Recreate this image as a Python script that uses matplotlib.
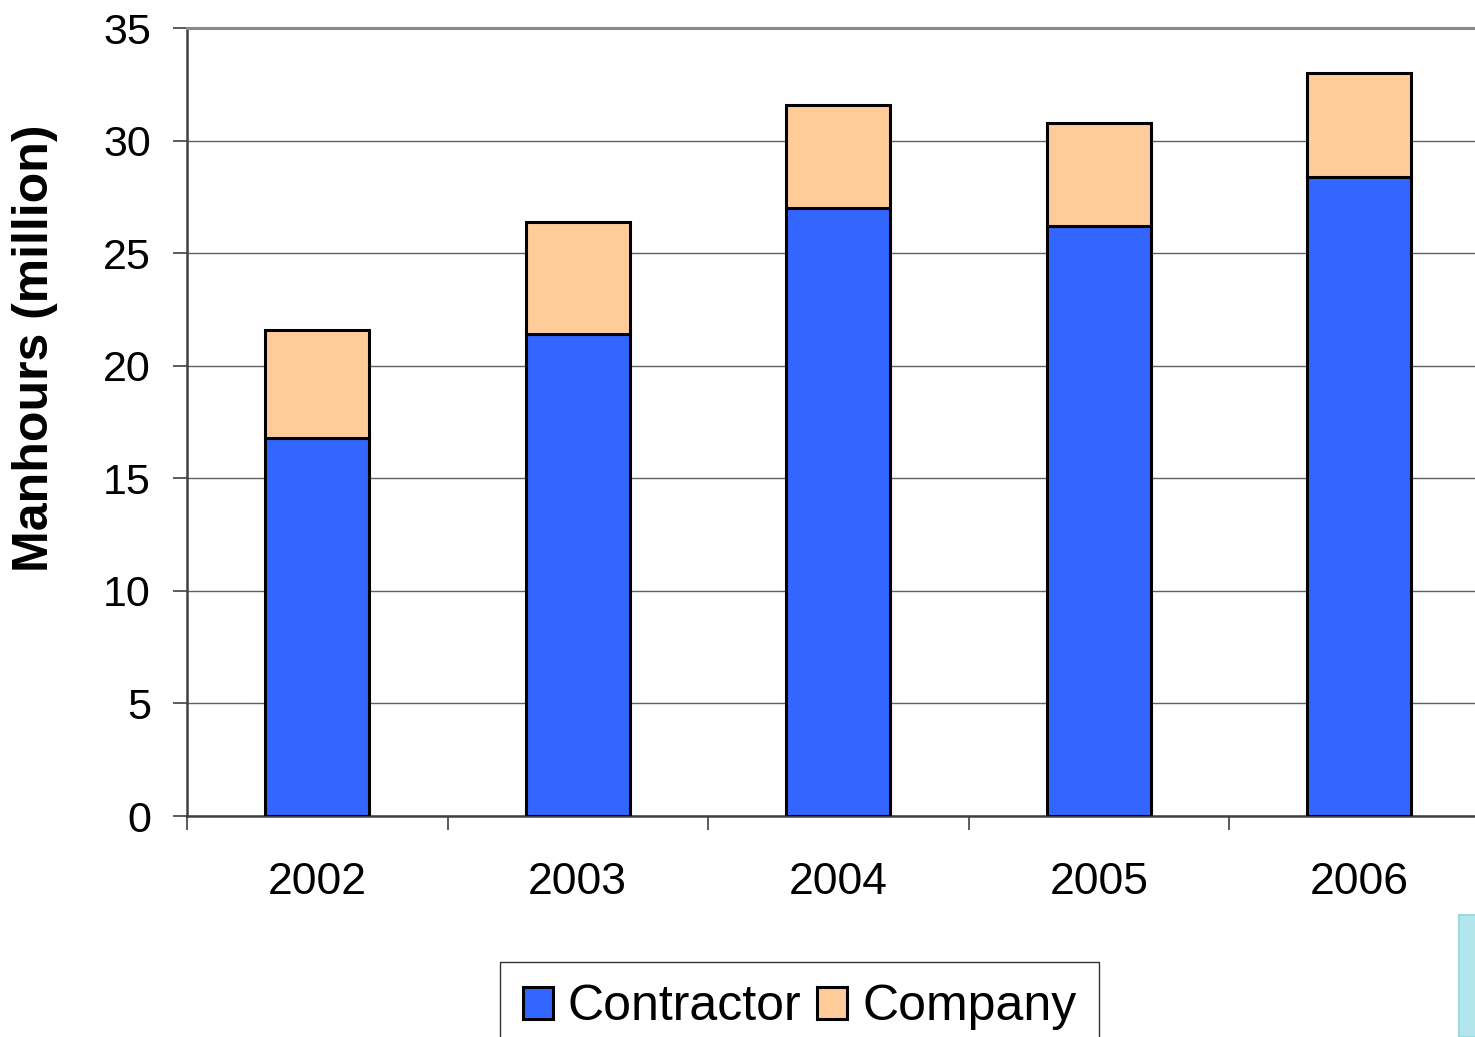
import matplotlib
matplotlib.use("Agg")
import matplotlib.pyplot as plt
from matplotlib.patches import Rectangle
import numpy as np

plt.rcParams["font.family"] = ["Liberation Sans", "DejaVu Sans"]

years = ["2002", "2003", "2004", "2005", "2006"]
contractor = [16.8, 21.4, 27.0, 26.2, 28.4]
company = [4.8, 5.0, 4.6, 4.6, 4.6]

BLUE = "#3366FF"
PEACH = "#FFCC99"

fig = plt.figure(figsize=(14.75, 10.37), dpi=100)
ax = fig.add_axes([187 / 1475, 1 - 816 / 1037, (1489.5 - 187) / 1475, (816 - 28) / 1037])

x = np.arange(len(years))
ax.bar(x, contractor, width=0.4, color=BLUE, edgecolor="black", linewidth=2.2,
       label="Contractor", zorder=3)
ax.bar(x, company, width=0.4, bottom=contractor, color=PEACH, edgecolor="black",
       linewidth=2.2, label="Company", zorder=3)

ax.set_xlim(-0.5, len(years) - 0.5)
ax.set_ylim(0, 35)
ax.set_yticks(range(0, 36, 5))
ax.set_xticks(x)
ax.set_xticklabels(years)
ax.set_xticks(np.arange(-0.5, len(years), 1.0), minor=True)
ax.tick_params(axis="x", which="major", length=0, pad=33, labelsize=32)
ax.tick_params(axis="x", which="minor", length=10, width=1.2, color="#404040")
ax.tick_params(axis="y", length=10, width=1.2, color="#404040", pad=16, labelsize=31)

ax.yaxis.grid(True, color="#606060", linewidth=1.0, zorder=0)
ax.set_axisbelow(True)
for side in ("left", "bottom"):
    ax.spines[side].set_color("#404040")
    ax.spines[side].set_linewidth(1.8)
ax.spines["top"].set_color("#8a8a8a")
ax.spines["top"].set_linewidth(2.2)
ax.spines["right"].set_visible(False)

ax.set_ylabel("Manhours (million)", fontsize=36, fontweight="bold")
ax.yaxis.set_label_coords(-0.099, 0.593)

leg = fig.legend(loc="upper center", bbox_to_anchor=(799.5 / 1475, 1 - 962 / 1037),
                 ncol=2, fontsize=36, frameon=True, fancybox=False, edgecolor="black",
                 handlelength=0.6, handleheight=0.6, handletextpad=0.3,
                 columnspacing=0.32, borderpad=0.45, borderaxespad=0)
leg.get_frame().set_linewidth(1.0)

fig.patches.append(Rectangle((1459 / 1475, 0), 20 / 1475, 1 - 915 / 1037,
                             transform=fig.transFigure, facecolor="#b3e5ec",
                             edgecolor="#9adbe3", linewidth=1.5))

fig.savefig("out.png", dpi=100)
